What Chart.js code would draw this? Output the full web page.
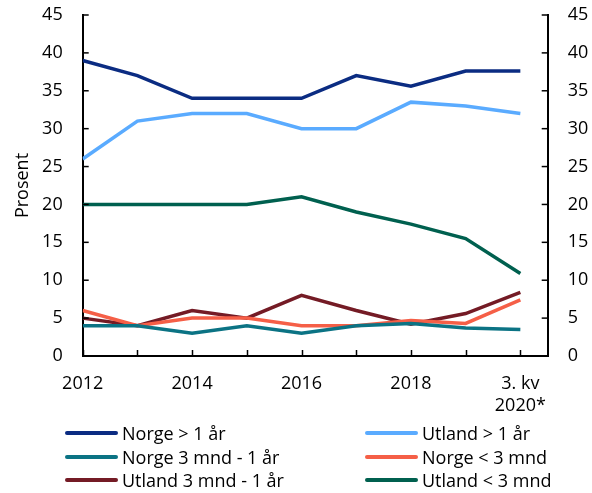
<!DOCTYPE html>
<html>
<head>
<meta charset="utf-8">
<script src="https://cdn.jsdelivr.net/npm/chart.js@4"></script>
<style>
  html, body { margin: 0; padding: 0; background: #fff; }
  #wrap { position: relative; width: 592px; height: 493px; }
  #legend { position: absolute; left: 65px; top: 422px; width: 527px;
    display: grid; grid-template-columns: 300px 227px; row-gap: 1px;
    font-family: "Open Sans", sans-serif; font-size: 18px; color: #000; }
  .item { display: flex; align-items: center; height: 22.5px; white-space: nowrap; }
  .sw { width: 53px; height: 4px; border-radius: 2px; margin-right: 4px; }
</style>
</head>
<body>
<div id="wrap">
  <canvas id="c" width="592" height="493"></canvas>
  <div id="legend"></div>
</div>
<script>
const categories = ['2012', '2013', '2014', '2015', '2016', '2017', '2018', '2019', '3. kv 2020*'];
const tickLabels = ['2012', '', '2014', '', '2016', '', '2018', '', ['3. kv', '2020*']];
const yTicks = [0, 5, 10, 15, 20, 25, 30, 35, 40, 45];

const seriesNames = ['Norge > 1 år', 'Utland > 1 år', 'Norge 3 mnd - 1 år', 'Norge < 3 mnd', 'Utland 3 mnd - 1 år', 'Utland < 3 mnd'];
const norgeOver1 = [39, 37, 34, 34, 34, 37, 35.6, 37.6, 37.6];
const utlandOver1 = [26, 31, 32, 32, 30, 30, 33.5, 33, 32];
const norge3mnd1aar = [4, 4, 3, 4, 3, 4, 4.3, 3.7, 3.5];
const norgeUnder3 = [6, 4, 5, 5, 4, 4, 4.7, 4.3, 7.4];
const utland3mnd1aar = [5, 4, 6, 5, 8, 6, 4.2, 5.6, 8.4];
const utlandUnder3 = [20, 20, 20, 20, 21, 19, 17.4, 15.5, 10.9];
const colors = ['#0b2c82', '#5aabff', '#0b7384', '#f55f47', '#741b25', '#00604f'];

const seriesValues = [norgeOver1, utlandOver1, norge3mnd1aar, norgeUnder3, utland3mnd1aar, utlandUnder3];

const font = { family: '"Open Sans", sans-serif', size: 18 };

const innerTicks = {
  id: 'innerTicks',
  afterDraw(chart) {
    const ctx = chart.ctx;
    const a = chart.chartArea;
    ctx.save();
    ctx.strokeStyle = '#000';
    ctx.lineWidth = 1.5;
    const L = 6;
    const x = chart.scales.x;
    categories.forEach((c, i) => {
      const px = Math.round(x.getPixelForValue(i)) + 0.5;
      ctx.beginPath(); ctx.moveTo(px, a.bottom); ctx.lineTo(px, a.bottom - L); ctx.stroke();
    });
    const yl = chart.scales.y, yr = chart.scales.y2;
    yTicks.forEach(v => {
      const py = yl.getPixelForValue(v);
      ctx.beginPath(); ctx.moveTo(a.left, py); ctx.lineTo(a.left + L, py); ctx.stroke();
      const py2 = yr.getPixelForValue(v);
      ctx.beginPath(); ctx.moveTo(a.right, py2); ctx.lineTo(a.right - L, py2); ctx.stroke();
    });
    ctx.restore();
  }
};

const datasets = seriesNames.map((name, k) => ({
  label: name,
  data: seriesValues[k].map((v, i) => ({ x: i, y: v })),
  borderColor: colors[k],
  backgroundColor: colors[k],
  borderWidth: 3.5,
  pointRadius: 0,
  tension: 0,
  yAxisID: 'y'
}));

const fitY = w => s => { s.width = w; s.paddingTop = 0; s.paddingBottom = 0; };

new Chart(document.getElementById('c'), {
  type: 'line',
  data: { datasets },
  options: {
    responsive: false,
    animation: false,
    events: [],
    layout: { padding: { top: 15, left: 0, right: 0, bottom: 0 } },
    plugins: { legend: { display: false }, tooltip: { enabled: false } },
    scales: {
      x: {
        type: 'linear', min: 0, max: 8.5,
        afterBuildTicks: s => { s.ticks = categories.map((c, i) => ({ value: i })); },
        afterFit: s => { s.height = 137; s.paddingLeft = 0; s.paddingRight = 0; },
        grid: { display: false, drawTicks: false },
        border: { display: true, color: '#000', width: 2 },
        ticks: { autoSkip: false, maxRotation: 0, padding: 17, color: '#000', font,
          callback: (v, i) => tickLabels[i] }
      },
      y: {
        position: 'left', min: 0, max: 45,
        afterBuildTicks: s => { s.ticks = yTicks.map(v => ({ value: v })); },
        afterFit: fitY(82.7),
        grid: { display: false, drawTicks: false },
        border: { display: true, color: '#000', width: 2 },
        ticks: { padding: 20, color: '#000', font },
        title: { display: true, text: 'Prosent', color: '#000', font, padding: { top: 12, bottom: 0 } }
      },
      y2: {
        position: 'right', min: 0, max: 45,
        afterBuildTicks: s => { s.ticks = yTicks.map(v => ({ value: v })); },
        afterFit: fitY(44.3),
        grid: { display: false, drawTicks: false },
        border: { display: true, color: '#000', width: 2 },
        ticks: { padding: 20, color: '#000', font }
      }
    }
  },
  plugins: [innerTicks]
});

const leg = document.getElementById('legend');
seriesNames.forEach((name, k) => {
  const d = document.createElement('div');
  d.className = 'item';
  d.innerHTML = '<span class="sw" style="background:' + colors[k] + '"></span><span></span>';
  d.lastChild.textContent = name;
  leg.appendChild(d);
});
</script>
</body>
</html>
